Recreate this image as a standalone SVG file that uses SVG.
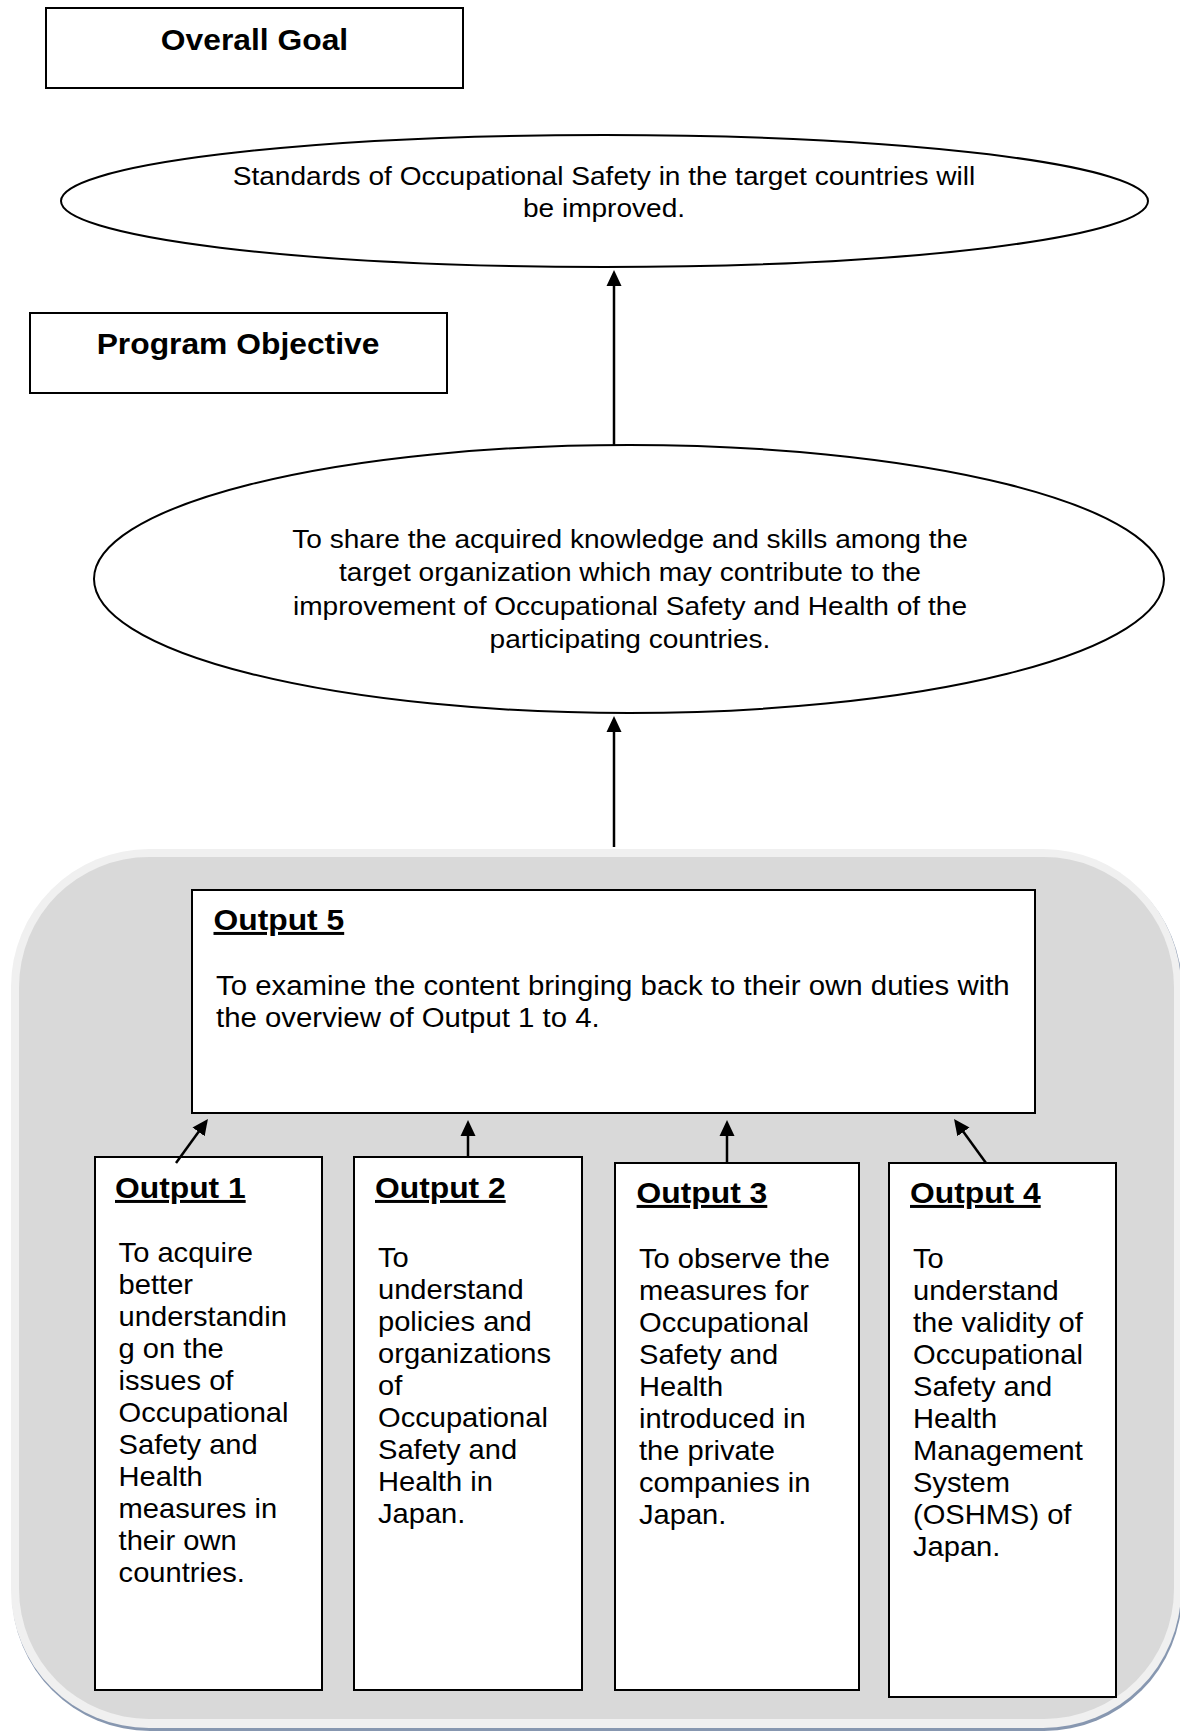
<svg xmlns="http://www.w3.org/2000/svg" width="1180" height="1733" viewBox="0 0 1180 1733">
  <defs>
    <style>
      .bx { fill: #ffffff; stroke: #000000; stroke-width: 2; }
      .el { fill: #ffffff; stroke: #000000; stroke-width: 2; }
      .title { font-family: "Liberation Sans", Arial, sans-serif; font-weight: bold; font-size: 30px; fill: #000000; }
      .ul { text-decoration: underline; }
      .body { font-family: "Liberation Sans", Arial, sans-serif; font-size: 26px; fill: #000000; }
      .boxt { font-family: "Liberation Sans", Arial, sans-serif; font-size: 28px; fill: #000000; }
      .conn { stroke: #000000; stroke-width: 2.5; fill: none; marker-end: url(#arrow); }
    </style>
    <marker id="arrow" viewBox="0 0 16 16" refX="11" refY="8" markerWidth="16" markerHeight="16" markerUnits="userSpaceOnUse" orient="auto">
      <path d="M0,0.5 L16,8 L0,15.5 z" fill="#000000"/>
    </marker>
  </defs>

  <rect x="0" y="0" width="1180" height="1733" fill="#ffffff"/>

  <g id="panel">
    <rect x="12" y="851" width="1170" height="880" rx="138" fill="#8797b0"/>
    <rect x="11" y="849" width="1170" height="879" rx="138" fill="#f0f0f0"/>
    <rect x="19" y="857" width="1155" height="862" rx="130" fill="#d9d9d9"/>
  </g>

  <g id="overall-goal-label">
    <rect class="bx" x="46" y="8" width="417" height="80"/>
    <text class="title" text-anchor="middle" transform="translate(254.5,50) scale(1.06,1)">Overall Goal</text>
  </g>

  <g id="overall-goal">
    <ellipse class="el" cx="604.5" cy="201" rx="543.5" ry="66"/>
    <text class="body" text-anchor="middle" transform="translate(604,185) scale(1.08,1)"><tspan x="0">Standards of Occupational Safety in the target countries will</tspan><tspan x="0" dy="32">be improved.</tspan></text>
  </g>

  <g id="program-objective-label">
    <rect class="bx" x="30" y="313" width="417" height="80"/>
    <text class="title" text-anchor="middle" transform="translate(238,354) scale(1.06,1)">Program Objective</text>
  </g>

  <g id="program-objective">
    <ellipse class="el" cx="629" cy="579" rx="535" ry="134"/>
    <text class="body" text-anchor="middle" transform="translate(630,548) scale(1.08,1)"><tspan x="0">To share the acquired knowledge and skills among the</tspan><tspan x="0" dy="33.3">target organization which may contribute to the</tspan><tspan x="0" dy="33.3">improvement of Occupational Safety and Health of the</tspan><tspan x="0" dy="33.3">participating countries.</tspan></text>
  </g>

  <g id="output5">
    <rect class="bx" x="192" y="890" width="843" height="223"/>
    <text class="title ul" transform="translate(213.5,930) scale(1.06,1)">Output 5</text>
    <text class="boxt" transform="translate(216,995) scale(1.05,1)"><tspan x="0">To examine the content bringing back to their own duties with</tspan><tspan x="0" dy="32">the overview of Output 1 to 4.</tspan></text>
  </g>

  <g id="output1">
    <rect class="bx" x="95" y="1157" width="227" height="533"/>
    <text class="title ul" transform="translate(115,1198) scale(1.06,1)">Output 1</text>
    <text class="boxt" transform="translate(118.6,1262) scale(1.04,1)"><tspan x="0">To acquire</tspan><tspan x="0" dy="32">better</tspan><tspan x="0" dy="32">understandin</tspan><tspan x="0" dy="32">g on the</tspan><tspan x="0" dy="32">issues of</tspan><tspan x="0" dy="32">Occupational</tspan><tspan x="0" dy="32">Safety and</tspan><tspan x="0" dy="32">Health</tspan><tspan x="0" dy="32">measures in</tspan><tspan x="0" dy="32">their own</tspan><tspan x="0" dy="32">countries.</tspan></text>
  </g>

  <g id="output2">
    <rect class="bx" x="354" y="1157" width="228" height="533"/>
    <text class="title ul" transform="translate(375,1198) scale(1.06,1)">Output 2</text>
    <text class="boxt" transform="translate(378,1267) scale(1.04,1)"><tspan x="0">To</tspan><tspan x="0" dy="32">understand</tspan><tspan x="0" dy="32">policies and</tspan><tspan x="0" dy="32">organizations</tspan><tspan x="0" dy="32">of</tspan><tspan x="0" dy="32">Occupational</tspan><tspan x="0" dy="32">Safety and</tspan><tspan x="0" dy="32">Health in</tspan><tspan x="0" dy="32">Japan.</tspan></text>
  </g>

  <g id="output3">
    <rect class="bx" x="615" y="1163" width="244" height="527"/>
    <text class="title ul" transform="translate(636.6,1203) scale(1.06,1)">Output 3</text>
    <text class="boxt" transform="translate(639,1268) scale(1.04,1)"><tspan x="0">To observe the</tspan><tspan x="0" dy="32">measures for</tspan><tspan x="0" dy="32">Occupational</tspan><tspan x="0" dy="32">Safety and</tspan><tspan x="0" dy="32">Health</tspan><tspan x="0" dy="32">introduced in</tspan><tspan x="0" dy="32">the private</tspan><tspan x="0" dy="32">companies in</tspan><tspan x="0" dy="32">Japan.</tspan></text>
  </g>

  <g id="output4">
    <rect class="bx" x="889" y="1163" width="227" height="534"/>
    <text class="title ul" transform="translate(910,1203) scale(1.06,1)">Output 4</text>
    <text class="boxt" transform="translate(913,1268) scale(1.04,1)"><tspan x="0">To</tspan><tspan x="0" dy="32">understand</tspan><tspan x="0" dy="32">the validity of</tspan><tspan x="0" dy="32">Occupational</tspan><tspan x="0" dy="32">Safety and</tspan><tspan x="0" dy="32">Health</tspan><tspan x="0" dy="32">Management</tspan><tspan x="0" dy="32">System</tspan><tspan x="0" dy="32">(OSHMS) of</tspan><tspan x="0" dy="32">Japan.</tspan></text>
  </g>

  <g id="connectors">
    <line class="conn" x1="614" y1="445" x2="614" y2="275"/>
    <line class="conn" x1="614" y1="847" x2="614" y2="721"/>
    <line class="conn" x1="176" y1="1163" x2="205" y2="1123"/>
    <line class="conn" x1="468" y1="1157" x2="468" y2="1125"/>
    <line class="conn" x1="727" y1="1163" x2="727" y2="1125"/>
    <line class="conn" x1="986" y1="1163" x2="957" y2="1123"/>
  </g>
</svg>
